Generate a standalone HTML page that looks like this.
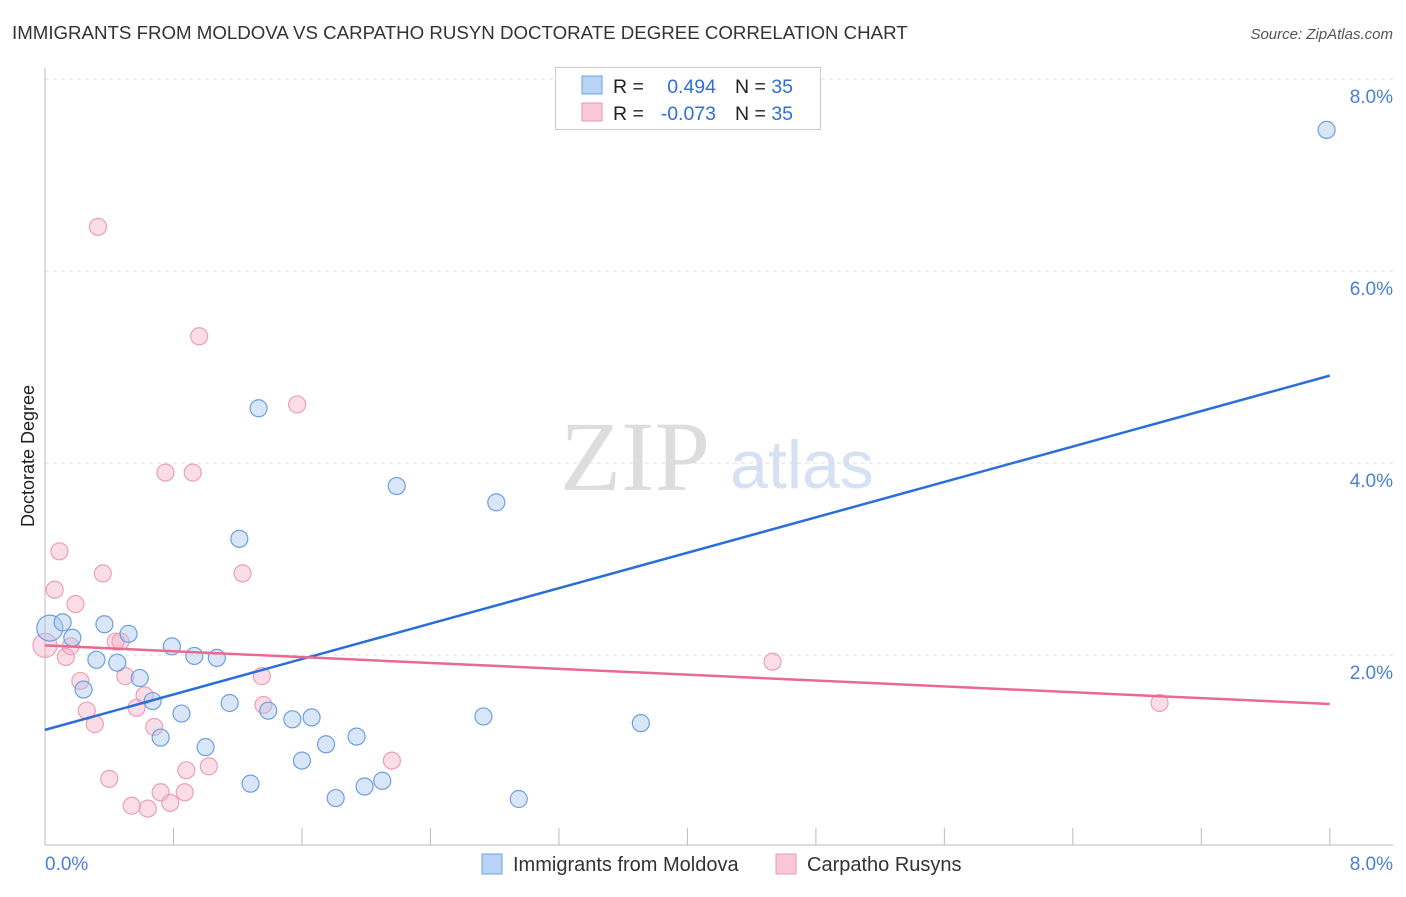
<!DOCTYPE html>
<html><head><meta charset="utf-8"><style>
body{margin:0;background:#fff;font-family:"Liberation Sans",sans-serif}
</style></head><body>
<svg width="1406" height="892" id="c" font-family="Liberation Sans, sans-serif">
<text x="12" y="39" font-size="18.7" fill="#333">IMMIGRANTS FROM MOLDOVA VS CARPATHO RUSYN DOCTORATE DEGREE CORRELATION CHART</text>
<text x="1393" y="39" font-size="15" fill="#555" font-style="italic" text-anchor="end">Source: ZipAtlas.com</text>
<text x="635" y="490" font-size="100" fill="#ddd" style="font-family:'Liberation Serif',serif" text-anchor="middle">ZIP</text>
<text x="802" y="488" font-size="68" fill="#d6e2f4" text-anchor="middle">atlas</text>
<text transform="translate(34,456) rotate(-90)" font-size="18" fill="#222" text-anchor="middle">Doctorate Degree</text>
<g id="grid"></g><g id="pts"></g><g id="lines"></g>
<g>
<rect x="555.5" y="67.5" width="265" height="62" fill="#fff" stroke="#ccc"/>
<rect x="582" y="76" width="20" height="18" fill="#b8d3f5" stroke="#6fa0e0"/>
<text x="613" y="93" font-size="19.5" fill="#222">R = </text>
<text x="716" y="93" font-size="19.5" fill="#2f6fd6" text-anchor="end">0.494</text>
<text x="735" y="93" font-size="19.5" fill="#222">N = <tspan fill="#2f6fd6">35</tspan></text>
<rect x="582" y="103" width="20" height="18" fill="#f9c8d6" stroke="#e99ab2"/>
<text x="613" y="120" font-size="19.5" fill="#222">R = </text>
<text x="716" y="120" font-size="19.5" fill="#2f6fd6" text-anchor="end">-0.073</text>
<text x="735" y="120" font-size="19.5" fill="#222">N = <tspan fill="#2f6fd6">35</tspan></text>
</g>
<g>
<rect x="482" y="854" width="20" height="20" fill="#b8d3f5" stroke="#6fa0e0"/>
<text x="513" y="871" font-size="20" fill="#333">Immigrants from Moldova</text>
<rect x="776" y="854" width="20" height="20" fill="#f9c8d6" stroke="#e99ab2"/>
<text x="807" y="871" font-size="20" fill="#333">Carpatho Rusyns</text>
</g>
</svg>
<script>
const yTicks=[2,4,6,8];
const yTickLabels=["2.0%","4.0%","6.0%","8.0%"];
const xLabels=["0.0%","8.0%"];
const blueX=[7.98,1.33,2.19,2.81,1.21,0.03,0.11,0.17,0.37,0.52,0.79,0.93,1.07,0.32,0.45,0.59,0.24,0.67,1.15,0.85,1.39,1.54,1.66,2.73,3.71,0.72,1.00,1.75,1.94,1.60,1.28,2.10,1.99,1.81,2.95];
const blueY=[7.47,4.57,3.76,3.59,3.21,2.28,2.34,2.18,2.32,2.22,2.09,1.99,1.97,1.95,1.92,1.76,1.64,1.52,1.50,1.39,1.42,1.33,1.35,1.36,1.29,1.14,1.04,1.07,1.15,0.90,0.66,0.69,0.63,0.51,0.50];
const pinkX=[0.33,0.96,1.57,0.75,0.92,0.09,0.36,1.23,0.06,0.19,0.0,0.13,0.16,0.44,0.47,4.53,1.35,0.50,0.22,0.62,1.36,0.57,0.26,0.68,0.31,2.16,1.02,0.88,0.40,0.72,0.87,0.78,0.54,0.64,6.94];
const pinkY=[6.46,5.32,4.61,3.90,3.90,3.08,2.85,2.85,2.68,2.53,2.10,1.98,2.09,2.14,2.14,1.93,1.78,1.78,1.73,1.58,1.48,1.45,1.42,1.25,1.28,0.90,0.84,0.80,0.71,0.57,0.57,0.46,0.43,0.40,1.50];
const blueLine=[1.22,4.91];
const pinkLine=[2.10,1.49];
const X=v=>45+v*160.6, Y=v=>847-v*96;
const NS="http://www.w3.org/2000/svg";
function mk(t,a,p){const e=document.createElementNS(NS,t);for(const k in a)e.setAttribute(k,a[k]);p.appendChild(e);return e;}
const g=document.getElementById('grid');
yTicks.forEach((t,i)=>{
 const l=mk('line',{x1:45,x2:1393,y1:Y(t),y2:Y(t),stroke:'#ddd','stroke-dasharray':'4,4'},g);
 
 
 const tx=mk('text',{x:1393,y:Y(t)+24,'font-size':19,fill:'#4a7fd6','text-anchor':'end'},g);tx.textContent=yTickLabels[i];
 
 
});
const ax=mk('line',{x1:45,x2:45,y1:68,y2:845,stroke:'#bbb'},g);


const bx=mk('line',{x1:45,x2:1393,y1:845,y2:845,stroke:'#bbb'},g);


for(let i=1;i<=10;i++){const t=mk('line',{x1:X(i*0.8),x2:X(i*0.8),y1:828,y2:845,stroke:'#bbb'},g);
 
 }
const xl0=mk('text',{x:45,y:870,'font-size':19,fill:'#4a7fd6'},g);xl0.textContent=xLabels[0];


const xl1=mk('text',{x:1393,y:870,'font-size':19,fill:'#4a7fd6','text-anchor':'end'},g);xl1.textContent=xLabels[1];


const p=document.getElementById('pts');
pinkX.forEach((x,i)=>{const c=mk('circle',{cx:X(x),cy:Y(pinkY[i]),r:i==10?12:8.5,fill:'rgba(246,170,195,0.4)',stroke:'#eaa0b8','stroke-width':1.2},p);
 
 });
blueX.forEach((x,i)=>{const c=mk('circle',{cx:X(x),cy:Y(blueY[i]),r:i==5?13:8.5,fill:'rgba(170,200,240,0.45)',stroke:'#6e9fe0','stroke-width':1.2},p);
 
 });
const L=document.getElementById('lines');
const bl=mk('line',{x1:X(0),x2:X(8),y1:Y(blueLine[0]),y2:Y(blueLine[1]),stroke:'#2a6fd8','stroke-width':2.5},L);


const pl=mk('line',{x1:X(0),x2:X(8),y1:Y(pinkLine[0]),y2:Y(pinkLine[1]),stroke:'#e86a92','stroke-width':2.5},L);


</script>
</body></html>
